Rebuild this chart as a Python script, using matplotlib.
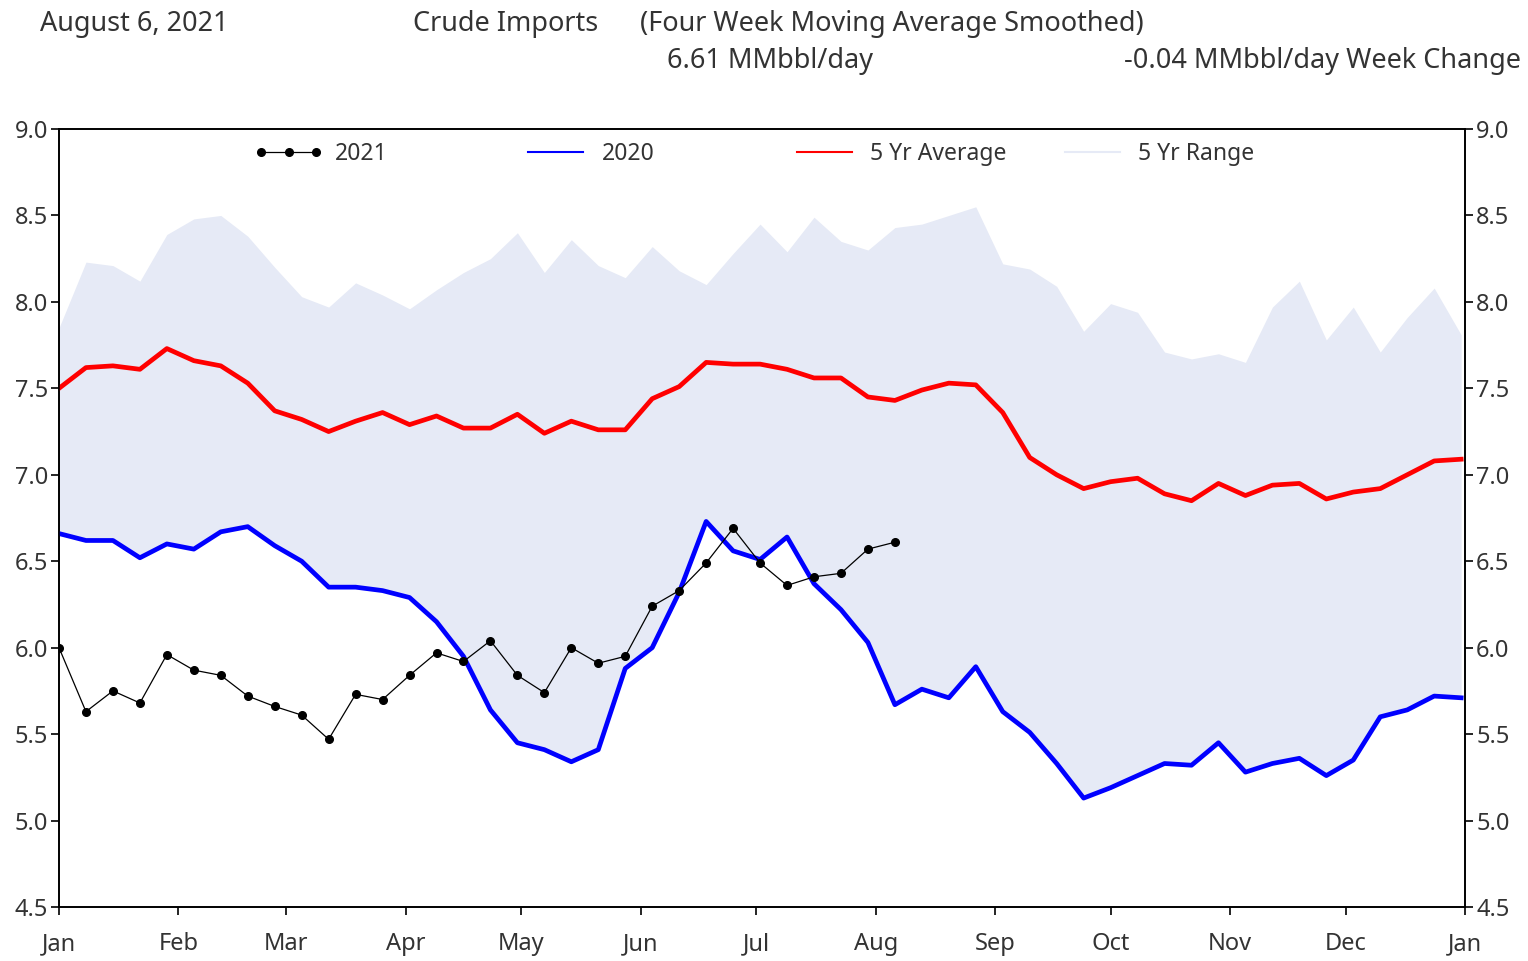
import matplotlib.pyplot as plt
from matplotlib.lines import Line2D
from matplotlib.legend import Legend

plt.rcParams['font.family'] = ['Noto Sans', 'DejaVu Sans']

# weekly values, one point per week starting Jan 1
y2021 = [6.00, 5.63, 5.75, 5.68, 5.96, 5.87, 5.84, 5.72, 5.66, 5.61, 5.47,
         5.73, 5.70, 5.84, 5.97, 5.92, 6.04, 5.84, 5.74, 6.00, 5.91, 5.95,
         6.24, 6.33, 6.49, 6.69, 6.49, 6.36, 6.41, 6.43, 6.57, 6.61]

y2020 = [6.66, 6.62, 6.62, 6.52, 6.60, 6.57, 6.67, 6.70, 6.59, 6.50, 6.35,
         6.35, 6.33, 6.29, 6.15, 5.95, 5.64, 5.45, 5.41, 5.34, 5.41, 5.88,
         6.00, 6.32, 6.73, 6.56, 6.51, 6.64, 6.37, 6.22, 6.03, 5.67, 5.76,
         5.71, 5.89, 5.63, 5.51, 5.33, 5.13, 5.19, 5.26, 5.33, 5.32, 5.45,
         5.28, 5.33, 5.36, 5.26, 5.35, 5.60, 5.64, 5.72, 5.71]

avg5 = [7.50, 7.62, 7.63, 7.61, 7.73, 7.66, 7.63, 7.53, 7.37, 7.32, 7.25,
        7.31, 7.36, 7.29, 7.34, 7.27, 7.27, 7.35, 7.24, 7.31, 7.26, 7.26,
        7.44, 7.51, 7.65, 7.64, 7.64, 7.61, 7.56, 7.56, 7.45, 7.43, 7.49,
        7.53, 7.52, 7.36, 7.10, 7.00, 6.92, 6.96, 6.98, 6.89, 6.85, 6.95,
        6.88, 6.94, 6.95, 6.86, 6.90, 6.92, 7.00, 7.08, 7.09]

range_hi = [7.85, 8.23, 8.21, 8.12, 8.39, 8.48, 8.50, 8.38, 8.20, 8.03, 7.97,
            8.11, 8.04, 7.96, 8.07, 8.17, 8.25, 8.40, 8.17, 8.36, 8.21, 8.14,
            8.32, 8.18, 8.10, 8.28, 8.45, 8.29, 8.49, 8.35, 8.30, 8.43, 8.45,
            8.50, 8.55, 8.22, 8.19, 8.09, 7.83, 7.99, 7.94, 7.71, 7.67, 7.70,
            7.65, 7.97, 8.12, 7.78, 7.97, 7.71, 7.91, 8.08, 7.81]
range_lo = y2020

month_days = [0, 31, 59, 90, 120, 151, 181, 212, 243, 273, 304, 334, 365]
month_labels = ['Jan', 'Feb', 'Mar', 'Apr', 'May', 'Jun', 'Jul', 'Aug',
                'Sep', 'Oct', 'Nov', 'Dec', 'Jan']

days_2021 = [7 * i for i in range(len(y2021))]
days_all = [7 * i for i in range(len(y2020))]

txt = '#333333'
fill_c = '#e6eaf6'
tick_fs = 17

fig = plt.figure(figsize=(15.28, 9.61), dpi=100)
ax = fig.add_axes([59 / 1528, 1 - 907 / 961, 1406 / 1528, 778 / 961])

ax.fill_between(days_all, range_lo, range_hi, color=fill_c, lw=0, zorder=1)
ax.plot(days_all, avg5, color='red', lw=3.4, zorder=3)
ax.plot(days_all, y2020, color='blue', lw=3.4, zorder=3)
ax.plot(days_2021, y2021, color='black', lw=0.9, marker='o', ms=5.5, zorder=4)

ax.set_xlim(0, 365)
ax.set_ylim(4.5, 9.0)
ax.set_xticks(month_days)
ax.set_xticklabels(month_labels)
yt = [4.5, 5.0, 5.5, 6.0, 6.5, 7.0, 7.5, 8.0, 8.5, 9.0]
ax.set_yticks(yt)
ax.set_yticklabels(['%.1f' % v for v in yt])
ax.tick_params(axis='both', direction='out', length=6, width=1.2,
               labelsize=tick_fs, labelcolor=txt, pad=2)
ax.tick_params(axis='x', pad=12)
for s in ax.spines.values():
    s.set_linewidth(1.2)

ax2 = ax.twinx()
ax2.set_ylim(4.5, 9.0)
ax2.set_yticks(yt)
ax2.set_yticklabels(['%.1f' % v for v in yt])
ax2.tick_params(axis='y', direction='out', length=6, width=1.2,
                labelsize=tick_fs, labelcolor=txt, pad=2)
for s in ax2.spines.values():
    s.set_linewidth(1.2)

# legend, one entry per fixed slot like the original
handles = [
    Line2D([], [], color='black', lw=0.9, marker='o', ms=5.5),
    Line2D([], [], color='blue', lw=1.5),
    Line2D([], [], color='red', lw=1.5),
    Line2D([], [], color=fill_c, lw=1.5),
]
labels = ['2021', '2020', '5 Yr Average', '5 Yr Range']
slots = [0.139, 0.329, 0.520, 0.7105]
for h, l, xs in zip(handles, labels, slots):
    lg = Legend(ax, [h], [l], loc='center left', bbox_to_anchor=(xs, 0.968),
                frameon=False, handlelength=3.0, handletextpad=0.5,
                borderpad=0, borderaxespad=0, numpoints=3, fontsize=16.5,
                labelcolor=txt)
    ax.add_artist(lg)

# header lines
hfs = 19.5
fig.text(40 / 1528, 1 - 24 / 961, 'August 6, 2021', fontsize=hfs, color=txt,
         va='center', ha='left')
fig.text(413 / 1528, 1 - 24 / 961, 'Crude Imports', fontsize=hfs, color=txt,
         va='center', ha='left')
fig.text(640 / 1528, 1 - 24 / 961, '(Four Week Moving Average Smoothed)',
         fontsize=hfs, color=txt, va='center', ha='left')
fig.text(667 / 1528, 1 - 61 / 961, '6.61 MMbbl/day', fontsize=hfs, color=txt,
         va='center', ha='left')
fig.text(1521 / 1528, 1 - 61 / 961, '-0.04 MMbbl/day Week Change',
         fontsize=hfs, color=txt, va='center', ha='right')

fig.savefig('out.png', dpi=100)
